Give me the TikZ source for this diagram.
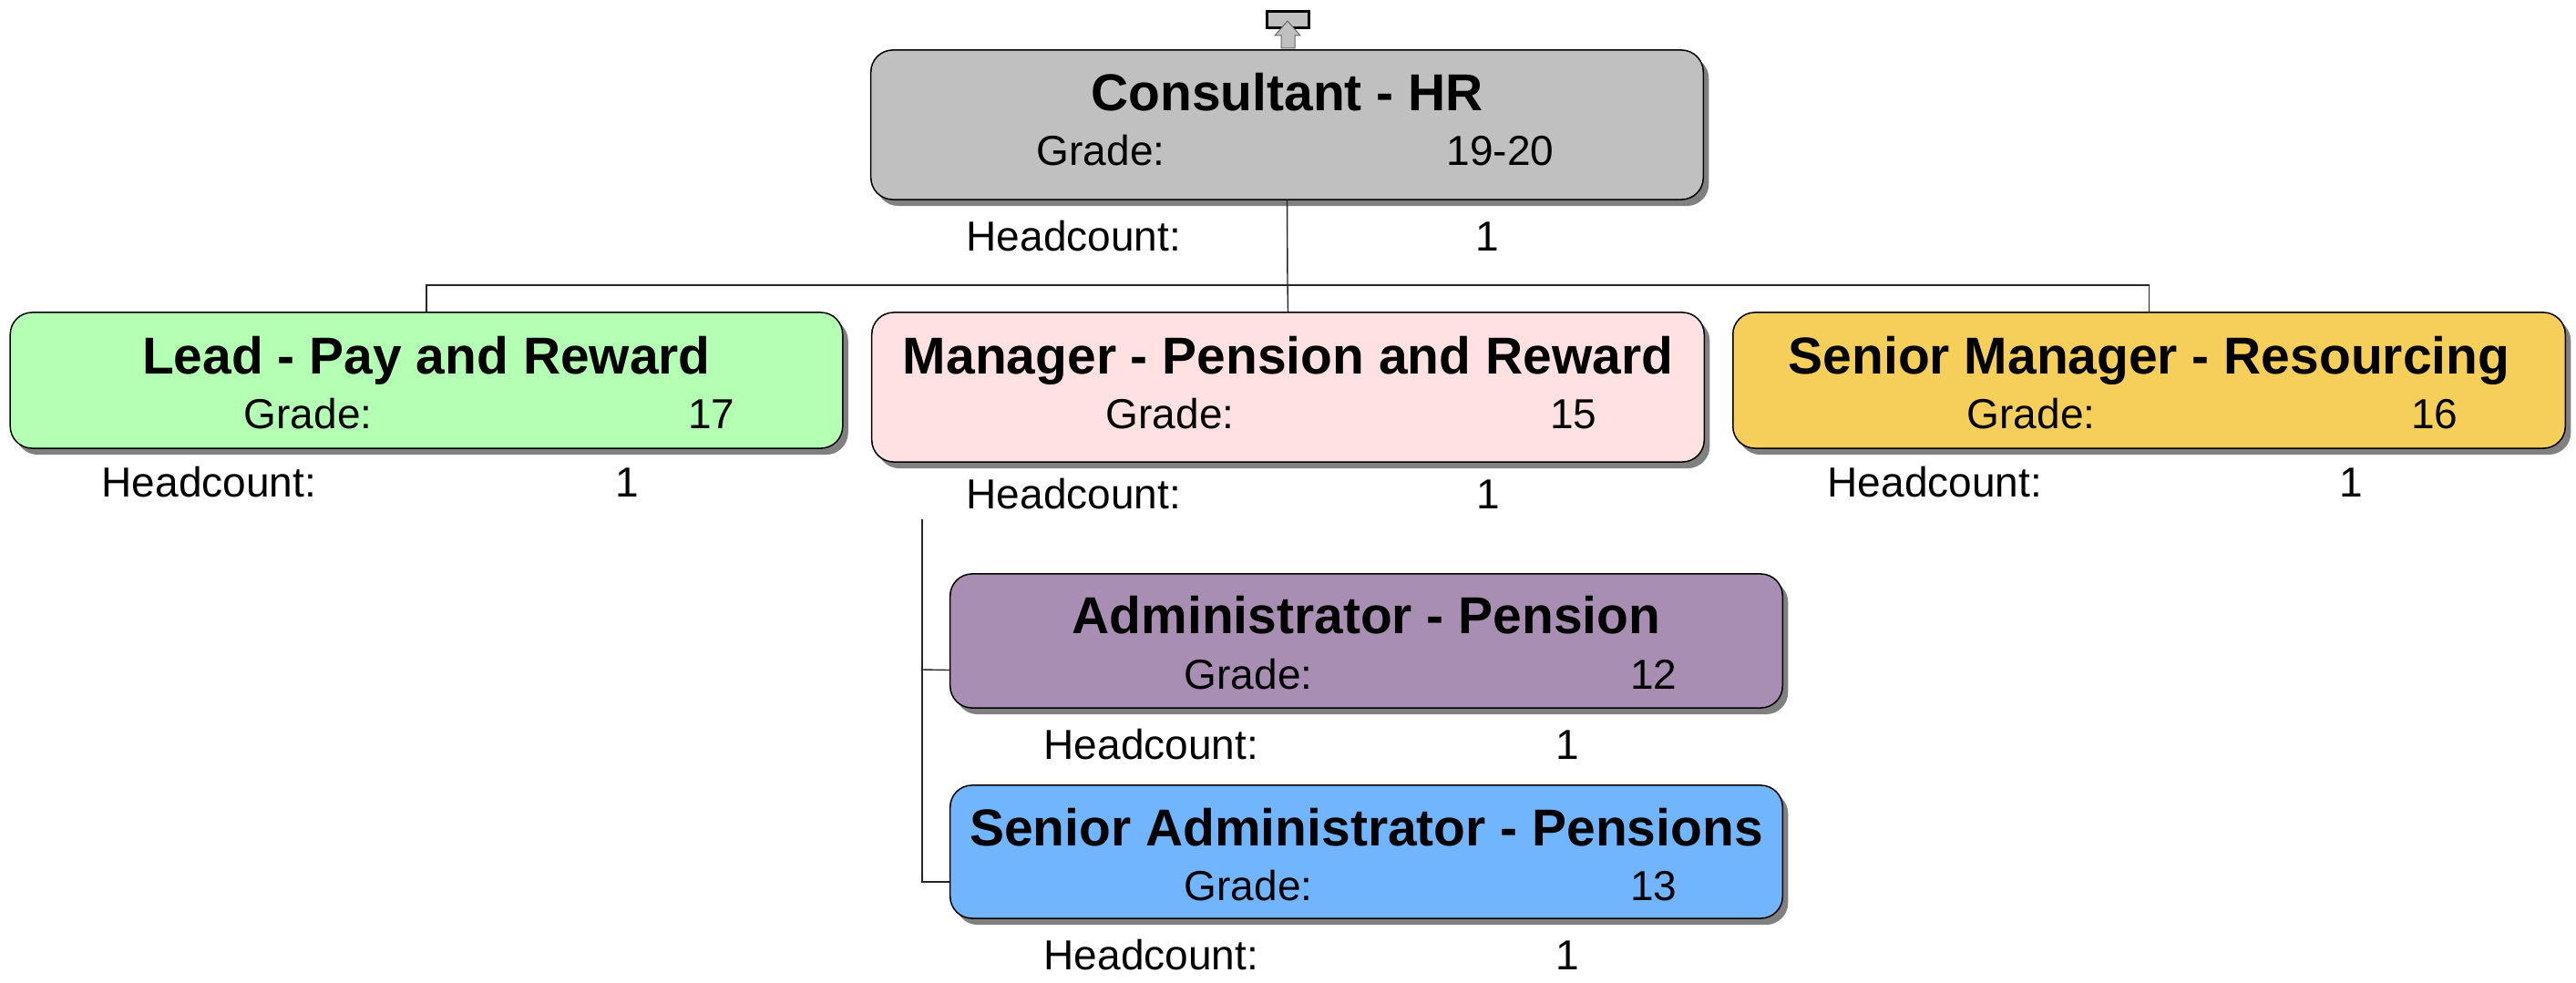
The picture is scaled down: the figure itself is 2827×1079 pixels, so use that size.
\documentclass[tikz,border=0pt]{standalone}
\usepackage{fontspec}
\setmainfont{Liberation Sans}
\usetikzlibrary{shadows}
\definecolor{cTop}{RGB}{192,192,192}
\definecolor{cLead}{RGB}{179,255,179}
\definecolor{cMgr}{RGB}{255,225,225}
\definecolor{cSrMgr}{RGB}{246,207,91}
\definecolor{cAdm}{RGB}{169,142,179}
\definecolor{cSrAdm}{RGB}{113,181,255}
\tikzset{
  orgbox/.style={draw=black, line width=0.015cm, rounded corners=0.24cm,
    minimum width=9.13cm, inner sep=0pt,
    drop shadow={shadow xshift=0.06cm, shadow yshift=-0.07cm, fill=black!50, opacity=1}},
  ttl/.style={anchor=base, inner sep=0pt, font=\fontsize{16.2pt}{19pt}\selectfont\bfseries},
  lbl/.style={anchor=base west, inner sep=0pt, font=\fontsize{13.09pt}{15pt}\selectfont},
  val/.style={anchor=base east, inner sep=0pt, font=\fontsize{13.09pt}{15pt}\selectfont},
  cnt/.style={anchor=base, inner sep=0pt, font=\fontsize{13.09pt}{15pt}\selectfont},
  conn/.style={draw=black!85, line width=0.014cm}
}
\begin{document}
\begin{tikzpicture}[x=0.01cm, y=-0.01cm]
\useasboundingbox (0,0) rectangle (2827,1079);

% boxes
\node[orgbox, fill=cTop, minimum height=1.64cm] (top) at (1412.5,137) {};
\node[orgbox, fill=cLead, minimum height=1.49cm] (lead) at (468,417.5) {};
\node[orgbox, fill=cMgr, minimum height=1.64cm] (mgr) at (1413.5,425) {};
\node[orgbox, fill=cSrMgr, minimum height=1.49cm] (srmgr) at (2358.5,417.5) {};
\node[orgbox, fill=cAdm, minimum height=1.47cm] (adm) at (1499.5,703.5) {};
\node[orgbox, fill=cSrAdm, minimum height=1.46cm] (sradm) at (1499.5,935) {};

% icon above top box
\draw[line width=0.03cm, fill=cTop] (1390,13) rectangle (1436,31);
\draw[fill=cTop, draw=black!60, line width=0.01cm] (1413,23) -- (1427,39) -- (1421,39) -- (1421,53) -- (1406,53) -- (1406,39) -- (1399,39) -- cycle;

% connectors
\coordinate (bus) at (1413,313);
\coordinate (subtop) at (1012,570);
\draw[conn] (top.south) -- (bus);
\draw[conn] (lead.north) |- (bus) -| (srmgr.north);
\draw[conn] (bus) -- (mgr.north);
\draw[conn] (subtop) |- ([yshift=-0.33cm]sradm.west);
\draw[conn] (subtop |- 0,735) -- ([yshift=-0.32cm]adm.west);

% top
\node[ttl] (topT) at (1412.5,122) {Consultant - HR};
\node[lbl] (topG) at (1137,182) {Grade:};
\node[val] (topGv) at (1706,182) {19-20};
\node[lbl] (topH) at (1060,275) {Headcount:};
\node[cnt] (topHv) at (1632,275) {1};

% lead
\node[ttl] (leadT) at (468,410) {Lead - Pay and Reward};
\node[lbl] (leadG) at (267,470) {Grade:};
\node[val] (leadGv) at (807,470) {17};
\node[lbl] (leadH) at (111,545) {Headcount:};
\node[cnt] (leadHv) at (688,545) {1};

% manager
\node[ttl] (mgrT) at (1413.5,410) {Manager - Pension and Reward};
\node[lbl] (mgrG) at (1213,470) {Grade:};
\node[val] (mgrGv) at (1753,470) {15};
\node[lbl] (mgrH) at (1060,558) {Headcount:};
\node[cnt] (mgrHv) at (1633,558) {1};

% senior manager
\node[ttl] (srmgrT) at (2358.5,410) {Senior Manager - Resourcing};
\node[lbl] (srmgrG) at (2158,470) {Grade:};
\node[val] (srmgrGv) at (2698,470) {16};
\node[lbl] (srmgrH) at (2005,545) {Headcount:};
\node[cnt] (srmgrHv) at (2580,545) {1};

% administrator
\node[ttl] (admT) at (1499.5,695) {Administrator - Pension};
\node[lbl] (admG) at (1299,756) {Grade:};
\node[val] (admGv) at (1841,756) {12};
\node[lbl] (admH) at (1145,833) {Headcount:};
\node[cnt] (admHv) at (1720,833) {1};

% senior administrator
\node[ttl] (sradmT) at (1499.5,928) {Senior Administrator - Pensions};
\node[lbl] (sradmG) at (1299,988) {Grade:};
\node[val] (sradmGv) at (1841,988) {13};
\node[lbl] (sradmH) at (1145,1064) {Headcount:};
\node[cnt] (sradmHv) at (1720,1064) {1};
\end{tikzpicture}
\end{document}
